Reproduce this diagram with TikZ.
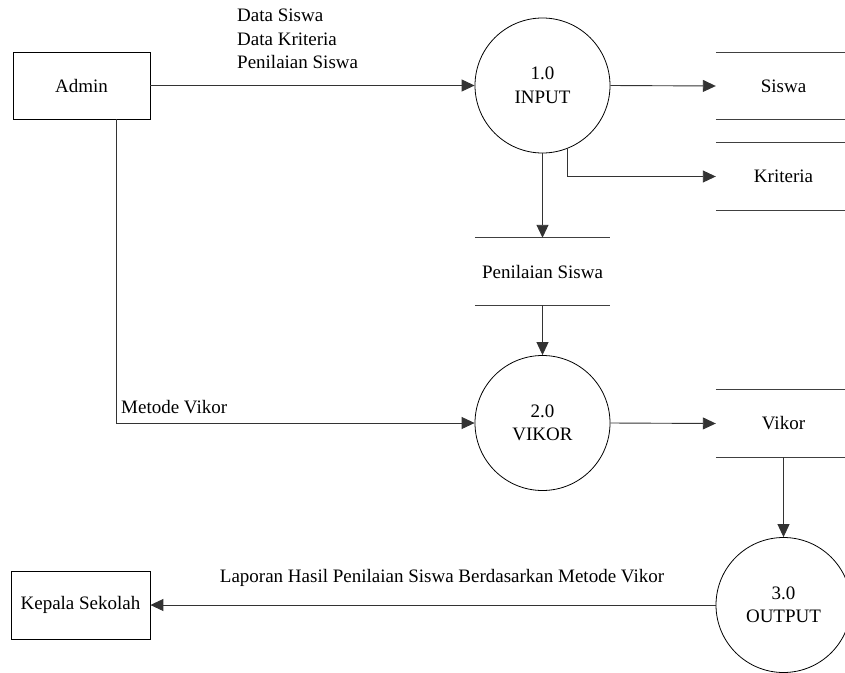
\documentclass[tikz,border=0pt]{standalone}
\usepackage{fontspec}
\setmainfont{Liberation Serif}
\usetikzlibrary{arrows.meta}
\begin{document}
\begin{tikzpicture}[x=1pt,y=-1pt,
  every node/.style={font=\fontsize{19}{23.5}\selectfont, inner sep=0pt},
  entity/.style={draw=black, line width=0.8pt, minimum height=67pt},
  process/.style={draw=black, line width=0.8pt, circle, minimum size=135pt, align=center},
  store/.style={minimum width=135pt, minimum height=67pt},
  storeline/.style={draw=black!75, line width=0.9pt},
  flow/.style={draw=black!80, line width=0.9pt, -{Triangle[length=13pt,width=12pt]}},
  lbl/.style={align=left}
]
\useasboundingbox (0,0) rectangle (845,672);

% external entities
\node[entity, minimum width=137pt] (admin) at (81.5,85.5) {Admin};
\node[entity, minimum width=139pt, minimum height=68pt] (kepala) at (80.5,605) {Kepala Sekolah};

% processes
\node[process] (p1) at (542.5,85.5) {1.0\\INPUT};
\node[process] (p2) at (542.5,423) {2.0\\VIKOR};
\node[process] (p3) at (783.5,605) {3.0\\OUTPUT};

% data stores
\node[store] (siswa) at (783.5,86) {Siswa};
\node[store] (kriteria) at (783.5,176.5) {Kriteria};
\node[store] (nilai) at (542.5,271.5) {Penilaian Siswa};
\node[store] (vikor) at (783.5,423.5) {Vikor};
\foreach \s in {siswa,kriteria,nilai,vikor}{
  \draw[storeline] (\s.north west) -- (\s.north east);
  \draw[storeline] (\s.south west) -- (\s.south east);
}

% flow labels
\node[lbl, anchor=west] (lin) at (237,39) {Data Siswa\\Data Kriteria\\Penilaian Siswa};
\node[lbl, anchor=west] (lmet) at (121,407) {Metode Vikor};
\node (lrep) at (442,578) {Laporan Hasil Penilaian Siswa Berdasarkan Metode Vikor};

% data flows
\draw[flow] (admin.east) -- (p1.west);
\draw[flow] (p1.east) -- (siswa.west);
\draw[flow] (p1.-68) |- (kriteria.west);
\draw[flow] (p1.south) -- (nilai.north);
\draw[flow] (nilai.south) -- (p2.north);
\draw[flow] ([xshift=35pt]admin.south) |- (p2.west);
\draw[flow] (p2.east) -- (vikor.west);
\draw[flow] (vikor.south) -- (p3.north);
\draw[flow] (p3.west) -- (kepala.east);
\end{tikzpicture}
\end{document}
